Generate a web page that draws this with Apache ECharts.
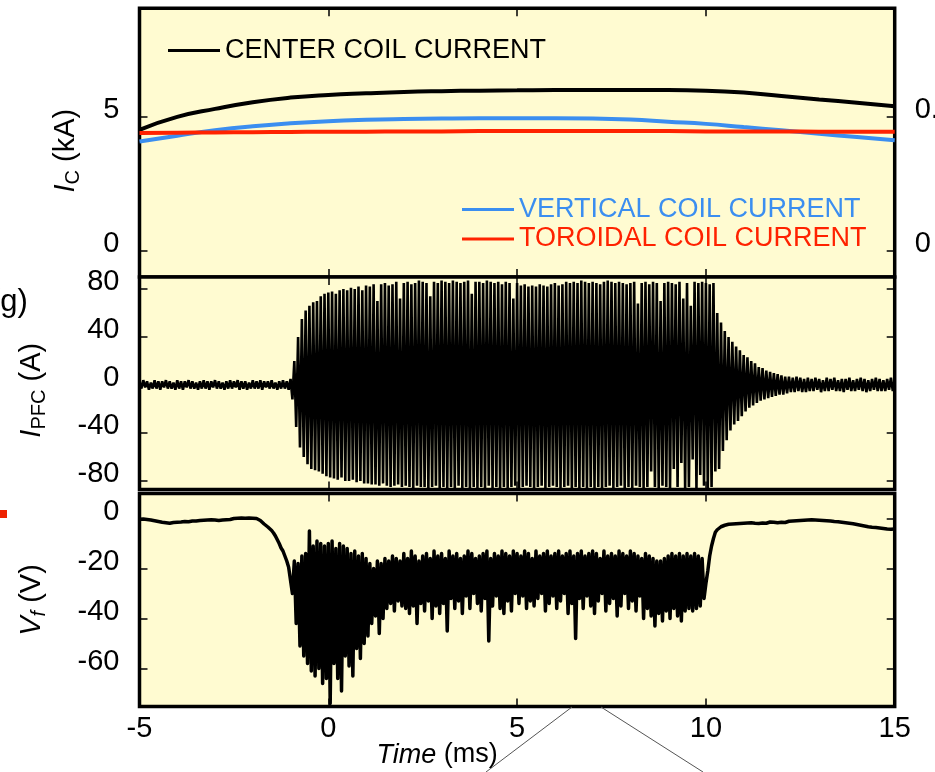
<!DOCTYPE html>
<html><head><meta charset="utf-8">
<script src="https://cdn.jsdelivr.net/npm/echarts@6/dist/echarts.min.js"></script>
<style>html,body{margin:0;padding:0;background:#fff}#c{width:935px;height:772px}</style>
</head><body><div id="c"></div>
<script>
// ---- data ----
const coilTime = [-5,-4,-3,-2,-1,0,1,2,3,4,5,6,7,8,9,10,11,12,13,14,15];
const centerCoil = [4.52,5.0,5.3,5.55,5.72,5.82,5.88,5.93,5.96,5.98,5.99,6.0,6.0,6.0,6.0,5.98,5.91,5.78,5.65,5.53,5.4];
const verticalCoil = [4.08,4.3,4.5,4.65,4.76,4.84,4.89,4.92,4.94,4.95,4.95,4.95,4.94,4.9,4.82,4.74,4.62,4.5,4.37,4.25,4.13];
const toroidalCoil = [4.40,4.41,4.42,4.43,4.44,4.45,4.45,4.46,4.46,4.47,4.47,4.47,4.47,4.47,4.47,4.46,4.46,4.46,4.45,4.45,4.45];
const sampleStart = -5, sampleStep = 0.05;   // ms, sampling of the two fast signals
const pfcCurrent = [
3,-3,4,-2,3,-4,2,-3,4,-3, 3,-4,3,-2,4,-3,3,-3,2,-4, 4,-3,3,-4,3,-2,4,-3,3,-3, 2,-4,3,-3,4,-3,3,-4,3,-2,
4,-3,3,-3,2,-4,3,-3,4,-3, 3,-2,4,-4,3,-3,3,-4,2,-3, 4,-3,3,-3,4,-4,3,-2,3,-3, 4,-3,2,-4,3,-3,4,-3,3,-4,
5,-12,20,-35,40,-52,55,-60,62,-66, 66,-70,69,-71,70,-72,74,-74,76,-76,
77,-77,78,-78,76,-79,79,-77,80,-80, 79,-80,81,-79,80,-81,82,-80,79,-82,
83,-82,82,-83,84,-83,70,-84,84,-82, 85,-84,83,-85,84,-84,86,-83,72,-85,
85,-84,86,-85,84,-86,85,-84,87,-85, 86,-85,85,-86,74,-85,86,-84,85,-86,
87,-85,86,-86,85,-85,87,-86,86,-84, 85,-86,86,-85,87,-86,76,-85,86,-86,
86,-85,85,-86,87,-84,86,-86,85,-85, 86,-86,84,-85,86,-86,85,-85,72,-84,
85,-86,83,-85,84,-84,82,-85,83,-86, 82,-85,84,-84,83,-86,82,-85,84,-84,
85,-85,83,-86,84,-85,86,-84,85,-86, 86,-85,85,-86,87,-85,86,-86,85,-85,
86,-86,85,-85,84,-86,86,-85,87,-84, 86,-86,85,-85,86,-84,85,-86,84,-85,
85,-86,86,-84,68,-85,85,-86,86,-85, 84,-72,86,-85,85,-86,70,-84,85,-85,
86,-86,85,-70,84,-85,86,-65,72,-86, 85,-85,66,-62,86,-86,85,-75,86,-84,
85,-86,84,-85,85,-72,
60,-70,52,-55,45,-46,40,-38,36,-33, 32,-30,29,-26,25,-22,23,-19,20,-17,
18,-15,15,-13,14,-12,12,-11,11,-10, 10,-9,9,-8,8,-8,7,-7,7,-6, 6,-6,7,-5,6,-6,5,-6,6,-5,
5,-5,6,-4,5,-6,4,-5,6,-5, 5,-4,6,-5,4,-5,5,-6,5,-4, 6,-5,4,-5,5,-4,6,-5,5,-6, 4,-5,5,-4,6,-5,5,-5,4,-5,
5,-4,6,-5,5];
const floatPotential = [
-0.3,-0.6,-0.2,-0.7,-0.4,-0.9,-0.6,-1.1,-0.9,-1.3, -1.2,-1.6,-1.5,-2.0,-1.7,-2.1,-1.9,-2.0,-1.6,-1.9,
-1.5,-1.8,-1.4,-1.7,-1.2,-1.6,-1.3,-1.5,-1.0,-1.4, -1.0,-1.3,-0.8,-1.2,-0.7,-1.0,-0.6,-1.0,-0.5,-0.8,
-0.6,-0.4,-0.8,-0.3,-0.6,-0.2,-0.5,-0.1,-0.4,-0.2, 0.0,-0.3,0.1,-0.2,0.2,-0.1,0.1,-0.3,0.2,0.0,
0.1,-0.2,0.0,-0.3,
-0.8,-1.5,-2.2,-2.8,-3.4,-4.0,-4.8,-5.8,-7.0,-8.5,-10.0,-11.8,-13.0,-15.0,-17.0,-19.5,
-20,-30,-17,-42,-18,-51,-15,-55,-14,-58, -5,-61,-11,-63,-9,-60,-10,-66,-11,-64,
-10,-74,-9,-58,-12,-64,-10,-69,-11,-55, -12,-59,-14,-63,-13,-52,-15,-56,-14,-50,
-16,-47,-18,-42,-20,-39,-17,-46,-18,-40, -16,-36,-17,-34,-15,-37,-16,-33,-17,-35,
-14,-36,-16,-38,-13,-35,-15,-42,-17,-34, -15,-37,-14,-33,-16,-40,-13,-35,-15,-38,
-14,-34,-16,-45,-13,-32,-15,-36,-14,-33, -16,-38,-15,-31,-13,-36,-14,-30,-16,-34,
-15,-37,-14,-32,-13,-49,-16,-35,-14,-31, -15,-36,-13,-38,-14,-33,-15,-37,-13,-30,
-14,-34,-15,-31,-13,-36,-14,-33,-16,-35, -13,-32,-15,-30,-14,-37,-13,-34,-15,-31,
-14,-36,-13,-33,-15,-30,-14,-38,-13,-34, -15,-48,-14,-32,-13,-36,-15,-31,-14,-35,
-13,-38,-14,-33,-16,-30,-13,-37,-15,-34, -14,-32,-15,-39,-13,-35,-14,-30,-15,-36,
-13,-33,-14,-37,-15,-31,-16,-40,-14,-36, -15,-39,-16,-43,-17,-38,-17,-41,-16,-37,
-15,-40,-14,-36,-15,-39,-14,-41,-15,-37, -14,-36,-15,-37,-14,-36,-15,-35,-16,
-32,-26,-21,-15,-11,-8,-5.5,-4.5,-3.8,-3.3,-3.0,-2.7,
-2.6,-2.3,-2.7,-2.2,-2.5,-2.1,-2.4,-2.0,-2.3,-1.9, -2.2,-1.8,-2.1,-1.7,-2.0,-1.9,-1.6,-2.0,-1.7,-1.8,
-1.5,-1.9,-1.6,-1.4,-1.8,-1.5,-1.3,-1.7,-1.4,-1.5, -1.2,-1.6,-1.3,-1.1,-1.5,-1.0,-1.3,-0.9,-1.2,-0.8,
-1.1,-0.7,-1.0,-0.6,-0.9,-0.5,-0.8,-0.6,-0.4,-0.7, -0.5,-0.8,-0.6,-0.9,-0.7,-1.0,-0.8,-1.2,-1.0,-1.3,
-1.1,-1.5,-1.3,-1.7,-1.5,-1.9,-1.7,-2.1,-2.0,-2.4, -2.3,-2.7,-2.6,-3.0,-2.9,-3.3,-3.1,-3.5,-3.2,-3.6,
-3.4,-3.8,-3.6,-4.0,-3.7,-4.2,-3.9,-4.3,-4.0,-4.2];
const timeRange = [-5, 15], timeInterval = 5;
const icTicks = [0, 5];
const icRightLabels = {0: '0', 5: '0.5'};
const pfcTicks = [-80, -40, 0, 40, 80];
const vfTicks = [-60, -40, -20, 0];
const seriesNames = ['CENTER COIL CURRENT', 'VERTICAL COIL CURRENT', 'TOROIDAL COIL CURRENT'];

// ---- chart ----
const FONT = 'Liberation Sans, Arial, sans-serif';
const CREAM = '#fffbd1';
const BLUE = '#3b8ef0', RED = '#ff2200';
const pairs = (vals) => vals.map((v, i) => [+(sampleStart + i * sampleStep).toFixed(2), v]);
const coilPairs = (vals) => vals.map((v, i) => [coilTime[i], v]);

const gridBase = {left: 139.5, right: 40.3, show: true, backgroundColor: CREAM, borderColor: '#000', borderWidth: 3.5, containLabel: false, outerBoundsMode: 'none'};
const grids = [
  Object.assign({top: 8.3, height: 268.7}, gridBase),
  Object.assign({top: 277, height: 212.5}, gridBase),
  Object.assign({top: 493.5, height: 213}, gridBase)
];
const tickStyle = {show: true, inside: true, length: 8, lineStyle: {color: '#000', width: 1.5}};
const labelStyle = {color: '#000', fontFamily: FONT, fontSize: 29};

const xAxes = [];
[0,1,2].forEach(g => {
  ['bottom','top'].forEach(pos => {
    xAxes.push({
      type: 'value', gridIndex: g, position: pos, min: timeRange[0], max: timeRange[1], interval: timeInterval,
      axisLine: {show: false, onZero: false}, splitLine: {show: false}, axisTick: tickStyle,
      axisLabel: Object.assign({show: g === 2 && pos === 'bottom', margin: 8}, labelStyle),
      name: (g === 2 && pos === 'bottom') ? '{it|Time} (ms)' : '',
      nameLocation: 'middle', nameGap: 35, nameMoveOverlap: false,
      nameTextStyle: {color: '#000', fontFamily: FONT, fontSize: 27, padding: [0, 160, 0, 0],
        rich: {it: {fontStyle: 'italic', fontSize: 27, fontFamily: FONT, color: '#000'}}}
    });
  });
});

const yDefs = [
  {min: -0.97, max: 9.05, ticks: icTicks, name: '{i|I}{s|C} (kA)', gap: 56, pad: [0, 16, 0, 0]},
  {min: -87.1, max: 90, ticks: pfcTicks, name: '{i|I}{s|PFC} (A)', gap: 90, pad: [0, 14, 0, 0]},
  {min: -75.2, max: 10, ticks: vfTicks, name: '{i|V}{sf|f} (V)', gap: 90, pad: [0, 0, 0, 0]}
];
const yAxes = [];
yDefs.forEach((d, g) => {
  yAxes.push({
    type: 'value', gridIndex: g, position: 'left', min: d.min, max: d.max,
    axisLine: {show: false, onZero: false}, splitLine: {show: false},
    axisTick: Object.assign({customValues: d.ticks}, tickStyle),
    axisLabel: Object.assign({customValues: d.ticks, margin: 20, verticalAlign: 'bottom', lineHeight: 14}, labelStyle),
    name: d.name, nameLocation: 'middle', nameRotate: 90, nameGap: d.gap, nameMoveOverlap: false,
    nameTextStyle: {color: '#000', fontFamily: FONT, fontSize: 29, padding: d.pad,
      rich: {
        i: {fontStyle: 'italic', fontSize: 29, fontFamily: FONT, color: '#000'},
        s: {fontSize: 20, fontFamily: FONT, color: '#000', padding: [15, 0, 0, 0]},
        sf: {fontSize: 20, fontStyle: 'italic', fontFamily: FONT, color: '#000', padding: [15, 0, 0, 0]}
      }}
  });
  yAxes.push({
    type: 'value', gridIndex: g, position: 'right', min: d.min, max: d.max,
    axisLine: {show: false, onZero: false}, splitLine: {show: false},
    axisTick: Object.assign({customValues: d.ticks}, tickStyle),
    axisLabel: Object.assign({show: g === 0, customValues: d.ticks, margin: 20, verticalAlign: 'bottom', lineHeight: 14,
      formatter: v => icRightLabels[v] !== undefined ? icRightLabels[v] : ''}, labelStyle)
  });
});

const option = {
  animation: false,
  backgroundColor: '#fff',
  grid: grids,
  xAxis: xAxes,
  yAxis: yAxes,
  legend: [
    {data: [{name: seriesNames[0], textStyle: {color: '#000'}}], left: 168, top: 37, icon: 'rect', itemWidth: 52, itemHeight: 3,
     selectedMode: false, padding: 0, textStyle: {fontFamily: FONT, fontSize: 27, color: '#000'}},
    {data: [{name: seriesNames[1], textStyle: {color: BLUE}}, {name: seriesNames[2], textStyle: {color: RED}}],
     orient: 'vertical', left: 462, top: 196, itemGap: 2.5, icon: 'rect', itemWidth: 52, itemHeight: 3,
     selectedMode: false, padding: 0, textStyle: {fontFamily: FONT, fontSize: 27}}
  ],
  series: [
    {name: seriesNames[0], type: 'line', xAxisIndex: 0, yAxisIndex: 0, data: coilPairs(centerCoil), smooth: true, symbol: 'none',
     lineStyle: {color: '#000', width: 4}, itemStyle: {color: '#000'}},
    {name: seriesNames[1], type: 'line', xAxisIndex: 0, yAxisIndex: 0, data: coilPairs(verticalCoil), smooth: true, symbol: 'none',
     lineStyle: {color: BLUE, width: 4}, itemStyle: {color: BLUE}},
    {name: seriesNames[2], type: 'line', xAxisIndex: 0, yAxisIndex: 0, data: coilPairs(toroidalCoil), smooth: true, symbol: 'none',
     lineStyle: {color: RED, width: 4}, itemStyle: {color: RED}},
    {name: 'PFC', type: 'line', xAxisIndex: 2, yAxisIndex: 2, data: pairs(pfcCurrent), symbol: 'none', sampling: null,
     lineStyle: {color: '#000', width: 2.6}},
    {name: 'Vf', type: 'line', xAxisIndex: 4, yAxisIndex: 4, data: pairs(floatPotential), symbol: 'none',
     lineStyle: {color: '#000', width: 3.5, join: 'round'}}
  ],
  graphic: [
    {type: 'text', left: -10, top: 287, style: {text: '(g)', font: '31px ' + FONT, fill: '#000'}},
    {type: 'rect', shape: {x: 0, y: 510, width: 7, height: 8}, style: {fill: '#ee2200'}},
    {type: 'line', shape: {x1: 572, y1: 707, x2: 486, y2: 772}, style: {stroke: '#555', lineWidth: 1}},
    {type: 'line', shape: {x1: 601, y1: 707, x2: 703, y2: 772}, style: {stroke: '#555', lineWidth: 1}}
  ]
};
const chart = echarts.init(document.getElementById('c'), null, {renderer: 'canvas'});
chart.setOption(option);
</script></body></html>
